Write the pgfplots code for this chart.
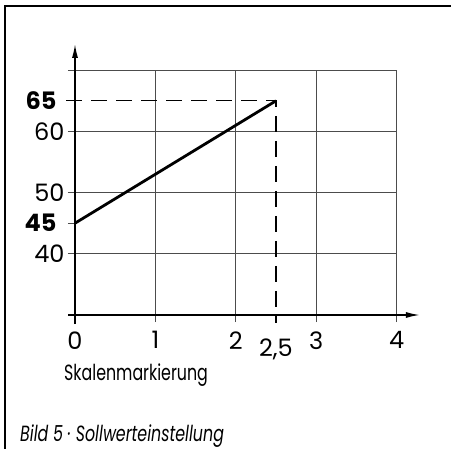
\documentclass[border=0pt]{standalone}
\usepackage{pgfplots}
\pgfplotsset{compat=1.18}
\usepackage{fontspec}
\setmainfont{Poppins}[FakeStretch=0.72]
\newfontfamily\numfont{Poppins}
\usetikzlibrary{arrows.meta}
\newcommand\lab{\fontsize{22bp}{24bp}\selectfont}
\newcommand\numlab{\numfont\fontsize{24bp}{26bp}\selectfont}
\begin{document}
\begin{tikzpicture}
\useasboundingbox (-75bp,-134bp) rectangle (376bp,315bp);
% Rahmen (nur links und oben)
\draw[line width=2.2bp] (-69.7bp,-134bp) -- (-69.7bp,309bp) -- (376bp,309bp);
\begin{axis}[
  at={(0,0)}, anchor=south west,
  scale only axis, width=321.6bp, height=244.8bp,
  xmin=0, xmax=4, ymin=30, ymax=70,
  clip=false,
  axis line style={draw=none},
  xtick={0,1,2,3,4}, xticklabels={0,1,2,3,4},
  ytick={30,40,50,60,70}, yticklabels={,40,50,60,},
  xticklabel style={yshift=-6bp},
  extra x ticks={2.5}, extra x tick labels={2{,}5},
  extra x tick style={grid=none, major tick length=0pt, xticklabel style={yshift=-14bp}},
  extra y ticks={45,65}, extra y tick labels={\textbf{45},\textbf{65}},
  extra y tick style={grid=none, yticklabel style={xshift=-8bp}},
  grid=major,
  grid style={line width=1bp, black!70},
  tick style={line width=1bp, black!70},
  major tick length=7bp, tick align=outside, tick pos=left,
  tick label style={font=\numlab},
]
% Kennlinie
\addplot[black, line width=2.8bp] coordinates {(0,45) (2.5,65)};
% Hilfslinien
\addplot[black, line width=1.1bp, dash pattern=on 16bp off 9bp] coordinates {(-0.11,65) (2.5,65) (2.5,28.7)};
% Achsen mit Pfeil
\draw[line width=1.5bp, -{Latex[length=14bp,width=6bp]}] (axis cs:-0.087,30) -- (axis cs:4.29,30);
\draw[line width=1.5bp, -{Latex[length=14bp,width=6bp]}] (axis cs:0,28.5) -- (axis cs:0,74.3);
\end{axis}
\node[anchor=base west, inner sep=0pt, font=\lab] at (-11bp,-65bp) {Skalenmarkierung};
\node[anchor=base west, inner sep=0pt, font=\lab\itshape] at (-55bp,-126.7bp) {Bild 5 · Sollwerteinstellung};
\end{tikzpicture}
\end{document}
